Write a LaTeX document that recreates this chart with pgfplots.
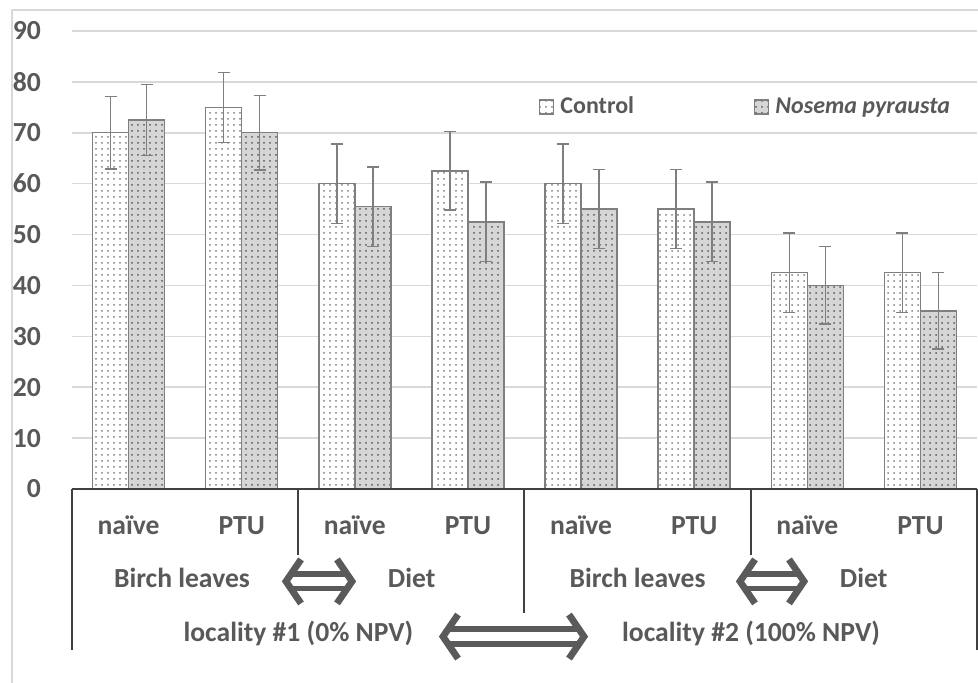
\documentclass[border=0pt]{standalone}
\usepackage{fontspec}
\setmainfont{Carlito}
\usepackage{pgfplots}
\pgfplotsset{compat=1.18}
\usetikzlibrary{patterns}
\definecolor{txt}{HTML}{595959}
\definecolor{gridc}{HTML}{D9D9D9}
\definecolor{edge}{HTML}{7F7F7F}
\definecolor{tbl}{HTML}{404040}
\definecolor{nos}{HTML}{D6D6D6}
\definecolor{arr}{HTML}{5A5A5A}
\newcommand{\lab}{\bfseries\fontsize{13.8}{14}\selectfont}
\newcommand{\dblarrow}[3]{% x1, x2, ycenter
  \draw[arr, line width=2.7pt] (#1+5,#3+3.7) -- (#2-5,#3+3.7);
  \draw[arr, line width=2.7pt] (#1+5,#3-3.7) -- (#2-5,#3-3.7);
  \draw[arr, line width=3.4pt, miter limit=10] (#1+9,#3+11) -- (#1+1.5,#3) -- (#1+9,#3-11);
  \draw[arr, line width=3.4pt, miter limit=10] (#2-9,#3+11) -- (#2-1.5,#3) -- (#2-9,#3-11);
}
\begin{document}
\begin{tikzpicture}[x=1pt,y=1pt]
\path[use as bounding box] (0,0) rectangle (489,341.5);
\draw[gridc, line width=0.8pt] (6,0) -- (6,336.5) -- (489,336.5);
\begin{axis}[
  at={(36pt,97pt)}, anchor=south west, scale only axis,
  width=452.5pt, height=229pt,
  xmin=-0.5, xmax=7.5, ymin=0, ymax=90,
  ybar=0pt, bar width=18pt,
  ytick={0,10,...,90},
  xtick={0,...,7},
  xticklabels={naïve,PTU,naïve,PTU,naïve,PTU,naïve,PTU},
  axis line style={draw=none},
  tick style={draw=none},
  major tick length=0pt,
  ymajorgrids, grid style={gridc, line width=0.8pt},
  /pgf/number format/assume math mode=true,
  yticklabel style={font=\lab, text=txt, anchor=east, xshift=-12pt},
  xticklabel style={font=\lab, text=txt, anchor=base, yshift=-22.7pt},
  clip=false,
  legend columns=2,
  legend style={at={(0.509,0.834)}, anchor=west, draw=none, fill=none,
    font=\bfseries\fontsize{12}{13}\selectfont, text=txt,
    /tikz/every even column/.append style={column sep=58pt}},
  legend image code/.code={\draw[#1] (0pt,-3.5pt) rectangle (7pt,3.5pt); \path (8pt,0pt);},
  error bars/y dir=both, error bars/y explicit,
  error bars/error bar style={edge, line width=0.7pt},
  error bars/error mark options={rotate=90, mark size=3pt, edge, line width=0.7pt},
]
\addplot[draw=edge, line width=0.7pt, fill=white, postaction={pattern=dots, pattern color=gray}]
 coordinates {(0,70) +- (0,7.1) (1,75) +- (0,6.9) (2,60) +- (0,7.8) (3,62.5) +- (0,7.7)
              (4,60) +- (0,7.8) (5,55) +- (0,7.8) (6,42.5) +- (0,7.8) (7,42.5) +- (0,7.8)};
\addplot[draw=edge, line width=0.7pt, fill=nos, postaction={pattern=dots, pattern color=black!65}]
 coordinates {(0,72.5) +- (0,7) (1,70) +- (0,7.3) (2,55.5) +- (0,7.8) (3,52.5) +- (0,7.8)
              (4,55) +- (0,7.8) (5,52.5) +- (0,7.8) (6,40) +- (0,7.6) (7,35) +- (0,7.5)};
\legend{Control, \textit{Nosema pyrausta}}
\end{axis}
% category table lines
\draw[tbl, line width=0.8pt] (36,97) -- (488.5,97);
\draw[tbl, line width=0.8pt] (36,97) -- (36,16.5);
\draw[tbl, line width=0.8pt] (149,97) -- (149,64);
\draw[tbl, line width=0.8pt] (262,97) -- (262,35);
\draw[tbl, line width=0.8pt] (375.5,97) -- (375.5,64);
\draw[tbl, line width=0.8pt] (488.5,97) -- (488.5,16.5);
% second row
\node[font=\lab, text=txt, anchor=base] at (91,47.6) {Birch leaves};
\node[font=\lab, text=txt, anchor=base] at (205.8,47.6) {Diet};
\node[font=\lab, text=txt, anchor=base] at (318.8,47.6) {Birch leaves};
\node[font=\lab, text=txt, anchor=base] at (431.8,47.6) {Diet};
% third row
\node[font=\lab, text=txt, anchor=base] at (149.2,20.6) {locality \#1 (0\% NPV)};
\node[font=\lab, text=txt, anchor=base] at (375.5,20.6) {locality \#2 (100\% NPV)};
% arrows
\dblarrow{141.5}{177.5}{50.8}
\dblarrow{368.5}{403.5}{50.8}
\dblarrow{220}{293.5}{23.2}
\end{tikzpicture}
\end{document}
